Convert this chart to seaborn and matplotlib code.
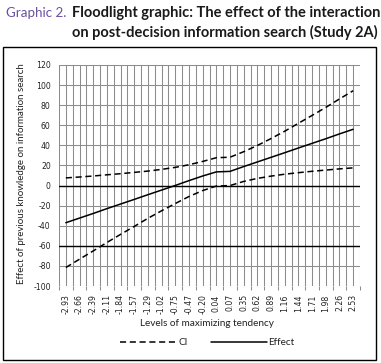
import numpy as np
import pandas as pd
import matplotlib
matplotlib.use("Agg")
import matplotlib.pyplot as plt
from matplotlib.patches import Rectangle
import seaborn as sns

# ---- data ----
levels = ["-2.93", "-2.66", "-2.39", "-2.11", "-1.84", "-1.57", "-1.29", "-1.02",
          "-0.75", "-0.47", "-0.20", "0.04", "0.07", "0.35", "0.62", "0.89",
          "1.16", "1.44", "1.71", "1.98", "2.26", "2.53"]
effect = [-37.0, -32.4, -27.8, -23.0, -18.4, -13.8, -9.1, -4.5, 0.1, 4.9, 9.5,
          13.6, 14.1, 18.9, 23.5, 28.1, 32.7, 37.4, 42.0, 46.6, 51.4, 56.0]
ci_upper = [7.6, 8.5, 9.5, 10.7, 11.8, 13.1, 14.4, 16.1, 18.1, 20.7, 24.0,
            27.7, 28.2, 33.7, 39.9, 46.8, 54.1, 62.0, 69.8, 77.8, 86.2, 94.4]
ci_lower = [-81.6, -73.3, -65.1, -56.7, -48.6, -40.7, -32.6, -25.1, -17.9, -10.9, -5.0,
            -0.5, 0.0, 4.1, 7.1, 9.4, 11.3, 12.8, 14.2, 15.4, 16.6, 17.6]
y_ticks = [-100, -80, -60, -40, -20, 0, 20, 40, 60, 80, 100, 120]
ref_lines = [0, -60]

title_prefix = "Graphic 2."
title_lines = ["Floodlight graphic: The effect of the interaction",
               "on post-decision information search (Study 2A)"]
y_label = "Effect of previous knowledge on information search"
x_label = "Levels of maximizing tendency"

pos = np.arange(len(levels))
df = pd.DataFrame({"pos": pos, "Effect": effect, "CI upper": ci_upper, "CI lower": ci_lower})

sns.set_style("white")
label_font = ["Lato", "DejaVu Sans"]
plt.rcParams["font.family"] = ["DejaVu Sans"]

W, H = 381, 363
fig = plt.figure(figsize=(W / 100, H / 100), dpi=100)
ax = fig.add_axes([59 / W, 1 - 286 / H, (360 - 59) / W, (286 - 65) / H])

grid_c = "#8c8c8c"
# gridlines
for yv in y_ticks:
    ax.axhline(yv, color=grid_c, lw=0.75, zorder=1)
for xv in np.arange(-0.5, len(levels), 0.5):
    ax.axvline(xv, color=grid_c, lw=0.75, zorder=1)
for yv in ref_lines:
    ax.axhline(yv, color="black", lw=1.0, zorder=2)

dash = (4, 2.4)
sns.lineplot(data=df, x="pos", y="CI upper", ax=ax, color="black", lw=1.1, zorder=3)
sns.lineplot(data=df, x="pos", y="CI lower", ax=ax, color="black", lw=1.1, zorder=3)
sns.lineplot(data=df, x="pos", y="Effect", ax=ax, color="black", lw=1.1, zorder=3)
lines = ax.get_lines()
ci_l1, ci_l2, eff_l = lines[-3], lines[-2], lines[-1]
ci_l1.set_dashes(dash)
ci_l2.set_dashes(dash)

ax.set_xlim(-0.5, len(levels) - 0.5)
ax.set_ylim(-100, 120)
ax.set_yticks(y_ticks)
ax.set_yticklabels([str(v) for v in y_ticks], fontsize=5.6, color="#222222")
ax.set_xticks(pos)
ax.set_xticklabels(levels, rotation=90, fontsize=5.6, color="#222222")
ax.set_xticks(np.arange(-0.5, len(levels), 1), minor=True)
ax.tick_params(axis="x", which="major", length=0, pad=6)
ax.tick_params(axis="x", which="minor", length=3, color=grid_c, width=0.75, direction="out", bottom=True)
ax.tick_params(axis="y", length=0, pad=6)
ax.set_xlabel("")
ax.set_ylabel("")
for s in ax.spines.values():
    s.set_visible(False)

# axis labels
fig.text(22 / W, 1 - 174 / H, y_label, rotation=90, ha="center", va="center",
         fontsize=7.0, family=label_font, color="#222222")
fig.text(207 / W, 1 - 323 / H, x_label, ha="center", va="center",
         fontsize=7.2, family=label_font, color="#222222")

# legend
leg = fig.legend([ci_l1, eff_l], ["CI", "Effect"], loc="center",
                 bbox_to_anchor=(207.5 / W, 1 - 342.7 / H), ncol=2, frameon=False,
                 handlelength=5.6, handletextpad=0.2, columnspacing=2.3,
                 prop={"family": label_font, "size": 7.2})
for t in leg.get_texts():
    t.set_color("#222222")

# outer box
fig.patches.append(Rectangle((3 / W, 1 - 360 / H), 373 / W, 313 / H, transform=fig.transFigure,
                             fill=False, edgecolor="black", lw=1.0))

# title
fig.text(6 / W, 1 - 17 / H, title_prefix, ha="left", va="baseline", fontsize=9.6,
         family=label_font, color="#6b4fa0")
fig.text(72 / W, 1 - 17 / H, title_lines[0], ha="left", va="baseline", fontsize=10.5,
         family=label_font, fontweight="bold", color="#1a1a1a")
fig.text(72 / W, 1 - 37 / H, title_lines[1], ha="left", va="baseline", fontsize=10.5,
         family=label_font, fontweight="bold", color="#1a1a1a")

fig.savefig("out.png", dpi=100)
